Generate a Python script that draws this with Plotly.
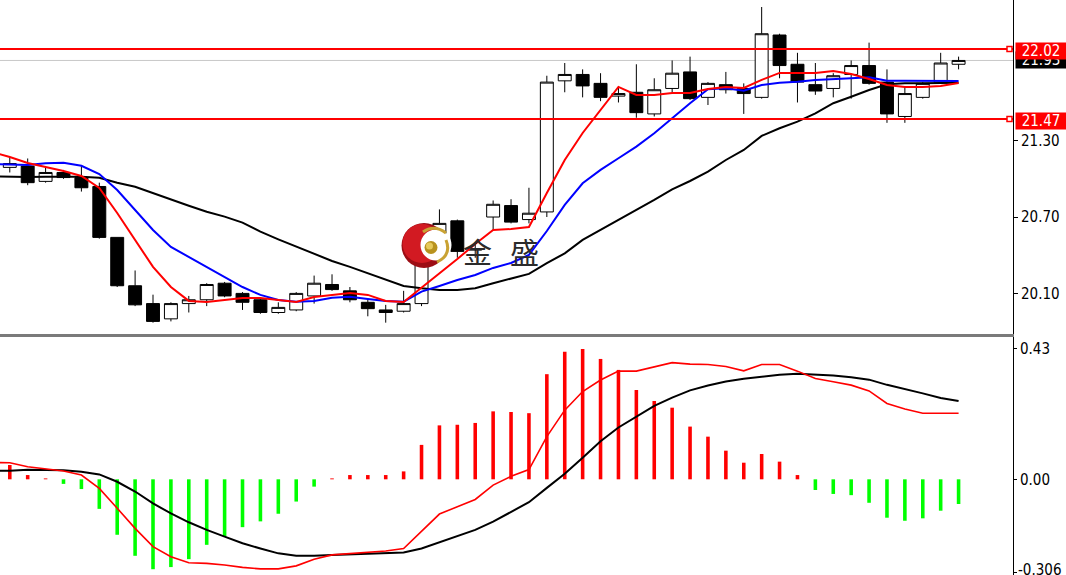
import plotly.graph_objects as go

# ---------------- data ----------------
idx = list(range(54))
opens = [21.09, 21.10, 20.98, 21.05, 21.01, 20.94, 20.54, 20.16, 20.02, 19.90,
         20.02, 20.05, 20.18, 20.10, 20.05, 19.95, 19.97, 20.08, 20.17, 20.12,
         20.03, 19.97, 19.96, 20.02, 20.57, 20.67, 20.44, 20.70, 20.79, 20.68,
         20.74, 21.77, 21.82, 21.75, 21.65, 21.68, 21.51, 21.71, 21.84, 21.64,
         21.74, 21.71, 21.64, 22.13, 21.90, 21.74, 21.71, 21.82, 21.89, 21.76,
         21.49, 21.64, 21.76, 21.90]
highs = [21.17, 21.16, 21.09, 21.07, 21.10, 20.97, 20.54, 20.28, 20.09, 20.03,
         20.08, 20.18, 20.19, 20.11, 20.06, 20.03, 20.11, 20.24, 20.25, 20.15,
         20.06, 20.01, 20.12, 20.57, 20.76, 20.68, 20.50, 20.83, 20.84, 20.93,
         21.81, 21.91, 21.86, 21.83, 21.72, 21.90, 21.79, 21.93, 21.96, 21.76,
         21.84, 21.75, 22.35, 22.14, 21.99, 21.91, 21.83, 21.93, 22.07, 21.86,
         21.72, 21.76, 21.99, 21.96]
lows = [21.05, 20.95, 20.97, 21.00, 20.90, 20.53, 20.15, 20.00, 19.87, 19.88,
        19.95, 20.00, 20.07, 19.97, 19.94, 19.94, 19.96, 20.02, 20.12, 20.03,
        19.92, 19.87, 19.95, 20.00, 20.56, 20.38, 20.38, 20.60, 20.65, 20.65,
        20.70, 21.68, 21.64, 21.61, 21.60, 21.48, 21.49, 21.68, 21.62, 21.58,
        21.67, 21.51, 21.63, 21.79, 21.60, 21.66, 21.64, 21.63, 21.74, 21.44,
        21.44, 21.63, 21.75, 21.86]
closes = [21.12, 20.97, 21.05, 21.01, 20.93, 20.54, 20.16, 20.01, 19.88, 20.02,
          20.05, 20.17, 20.08, 20.03, 19.95, 19.99, 20.10, 20.18, 20.13, 20.05,
          19.98, 19.95, 20.02, 20.55, 20.65, 20.43, 20.45, 20.80, 20.66, 20.73,
          21.76, 21.82, 21.73, 21.64, 21.67, 21.52, 21.70, 21.83, 21.63, 21.75,
          21.70, 21.67, 22.14, 21.89, 21.76, 21.69, 21.81, 21.89, 21.75, 21.51,
          21.67, 21.75, 21.91, 21.93]

# moving averages (first value belongs to the bar just left of the view)
ma_x = list(range(-1, 54))
ma_fast = [21.211, 21.172, 21.125, 21.093, 21.062, 21.022, 20.928, 20.732, 20.520, 20.308,
           20.150, 20.041, 20.033, 20.048, 20.064, 20.064, 20.048, 20.033, 20.072, 20.088,
           20.103, 20.088, 20.041, 20.033, 20.143, 20.260, 20.370, 20.488, 20.598, 20.606,
           20.622, 20.889, 21.148, 21.360, 21.541, 21.722, 21.659, 21.659, 21.674, 21.674,
           21.706, 21.722, 21.714, 21.777, 21.832, 21.832, 21.832, 21.847, 21.824, 21.784,
           21.737, 21.722, 21.722, 21.729, 21.753]
ma_mid = [21.117, 21.113, 21.109, 21.122, 21.127, 21.103, 21.038, 20.912, 20.755, 20.598,
          20.465, 20.386, 20.308, 20.229, 20.150, 20.088, 20.048, 20.035, 20.040, 20.066,
          20.074, 20.056, 20.040, 20.035, 20.114, 20.158, 20.205, 20.245, 20.300, 20.339,
          20.402, 20.590, 20.795, 20.965, 21.070, 21.162, 21.253, 21.358, 21.478, 21.594,
          21.704, 21.711, 21.692, 21.737, 21.755, 21.763, 21.777, 21.782, 21.790, 21.798,
          21.771, 21.771, 21.771, 21.769, 21.769]
ma_slow = [21.019, 21.015, 21.015, 21.017, 21.017, 21.017, 21.009, 20.970, 20.938, 20.887,
           20.842, 20.789, 20.742, 20.703, 20.656, 20.585, 20.525, 20.467, 20.415, 20.355,
           20.308, 20.258, 20.205, 20.158, 20.140, 20.127, 20.127, 20.140, 20.180, 20.219,
           20.253, 20.337, 20.415, 20.520, 20.598, 20.677, 20.755, 20.834, 20.918, 20.983,
           21.056, 21.148, 21.227, 21.337, 21.397, 21.449, 21.515, 21.594, 21.645, 21.698,
           21.743, 21.751, 21.751, 21.751, 21.755]

# MACD panel
macd_dif = [0.055, 0.0545, 0.041, 0.033, 0.027, 0.014, -0.030, -0.095, -0.161, -0.221,
            -0.254, -0.274, -0.276, -0.281, -0.289, -0.294, -0.294, -0.284, -0.262, -0.248,
            -0.243, -0.240, -0.235, -0.227, -0.172, -0.114, -0.090, -0.066, -0.019, 0.010,
            0.032, 0.140, 0.227, 0.288, 0.326, 0.355, 0.355, 0.368, 0.383, 0.378,
            0.377, 0.370, 0.356, 0.377, 0.377, 0.355, 0.331, 0.320, 0.309, 0.290,
            0.249, 0.231, 0.217, 0.217, 0.217]
macd_dea = [0.028, 0.028, 0.031, 0.031, 0.030, 0.025, 0.016, -0.008, -0.040, -0.079,
            -0.112, -0.141, -0.166, -0.188, -0.210, -0.227, -0.243, -0.251, -0.251, -0.248,
            -0.246, -0.246, -0.244, -0.240, -0.227, -0.207, -0.188, -0.166, -0.139, -0.106,
            -0.075, -0.028, 0.018, 0.071, 0.125, 0.170, 0.206, 0.241, 0.268, 0.292,
            0.308, 0.321, 0.330, 0.336, 0.343, 0.346, 0.344, 0.341, 0.335, 0.327,
            0.310, 0.297, 0.282, 0.267, 0.257]
macd_hist = [0.047, 0.014, 0.003, -0.015, -0.032, -0.097, -0.182, -0.251, -0.295, -0.288,
             -0.262, -0.215, -0.188, -0.157, -0.138, -0.113, -0.073, -0.024, 0.003, 0.014,
             0.014, 0.014, 0.026, 0.113, 0.177, 0.179, 0.185, 0.223, 0.221, 0.217,
             0.345, 0.419, 0.428, 0.395, 0.359, 0.293, 0.257, 0.235, 0.173, 0.140,
             0.094, 0.0545, 0.083, 0.058, 0.014, -0.035, -0.048, -0.052, -0.077, -0.126,
             -0.136, -0.128, -0.103, -0.081]

level_lines = [22.02, 21.47]
level_labels = ["22.02", "21.47"]
bid_price = 21.93
bid_label = "21.93"

price_ticks = [21.30, 20.70, 20.10]
price_tick_text = ["21.30", "20.70", "20.10"]
macd_ticks = [0.43, 0.0, -0.306]
macd_tick_text = ["0.43", "0.00", ""]
macd_min_label = "-0.306"

logo_chars = ["金", "盛"]

# ---------------- figure ----------------
W, H = 1066, 575
PLOT_W = 1013
FONT = "'DejaVu Sans Condensed', 'Liberation Sans', sans-serif"


def PX(px):
    return px / PLOT_W


def PY(py):
    return 1 - py / H


fig = go.Figure()

fig.add_trace(go.Candlestick(
    x=idx, open=opens, high=highs, low=lows, close=closes,
    increasing=dict(line=dict(color="black", width=1), fillcolor="white"),
    decreasing=dict(line=dict(color="black", width=1), fillcolor="black"),
    whiskerwidth=0, xaxis="x", yaxis="y", showlegend=False, hoverinfo="skip"))

for vals, col in [(ma_slow, "#000000"), (ma_mid, "#0000ff"), (ma_fast, "#ff0000")]:
    fig.add_trace(go.Scatter(x=ma_x, y=vals, mode="lines",
                             line=dict(color=col, width=2),
                             xaxis="x", yaxis="y", showlegend=False, hoverinfo="skip"))

fig.add_trace(go.Bar(
    x=idx, y=macd_hist, width=0.2,
    marker=dict(color=["#ff0000" if v >= 0 else "#00ff00" for v in macd_hist],
                line=dict(width=0)),
    xaxis="x2", yaxis="y2", showlegend=False, hoverinfo="skip"))
fig.add_trace(go.Scatter(x=ma_x, y=macd_dea, mode="lines", line=dict(color="#000000", width=2),
                         xaxis="x2", yaxis="y2", showlegend=False, hoverinfo="skip"))
fig.add_trace(go.Scatter(x=ma_x, y=macd_dif, mode="lines", line=dict(color="#ff0000", width=1.6),
                         xaxis="x2", yaxis="y2", showlegend=False, hoverinfo="skip"))

shapes = []
# bid line
shapes.append(dict(type="line", xref="paper", yref="y", x0=0, x1=1, y0=bid_price, y1=bid_price,
                   line=dict(color="#c8c8c8", width=1), layer="below"))
# level lines with end markers
for lv in level_lines:
    shapes.append(dict(type="line", xref="paper", yref="y", x0=0, x1=1, y0=lv, y1=lv,
                       line=dict(color="#ff0000", width=2), layer="above"))
    shapes.append(dict(type="rect", xref="paper", yref="y", xsizemode="pixel", ysizemode="pixel",
                       xanchor=1, yanchor=lv, x0=-6, x1=-1, y0=-2.5, y1=2.5,
                       line=dict(color="#ff0000", width=1.5), fillcolor="white", layer="above"))

# watermark logo
def circ(cx, cy, r, color):
    return dict(type="circle", xref="paper", yref="paper",
                x0=PX(cx - r), x1=PX(cx + r), y0=PY(cy + r), y1=PY(cy - r),
                fillcolor=color, line=dict(width=0), layer="above")

shapes.append(circ(424, 245.5, 22.5, "#9c0d14"))
shapes.append(circ(422, 243.5, 19.5, "#d21a22"))
shapes.append(circ(436, 245.0, 15.5, "#ffffff"))
shapes.append(circ(431, 247.5, 6.5, "#b8921e"))
shapes.append(circ(429.5, 246, 3.5, "#e6c95a"))


def qpath(p0, c, p1):
    return "M %f,%f Q %f,%f %f,%f" % (PX(p0[0]), PY(p0[1]), PX(c[0]), PY(c[1]), PX(p1[0]), PY(p1[1]))

shapes.append(dict(type="path", xref="paper", yref="paper",
                   path=qpath((423, 232), (434, 224), (446, 233)),
                   line=dict(color="#c9a233", width=3), layer="above"))
shapes.append(dict(type="path", xref="paper", yref="paper",
                   path=qpath((437, 262), (452, 255), (446, 240)),
                   line=dict(color="#c9a233", width=3), layer="above"))

annotations = []
# bid tag (behind the 22.02 tag)
annotations.append(dict(x=1, xref="paper", xanchor="left", xshift=2, y=bid_price, yref="y",
                        yanchor="middle", text=bid_label, showarrow=False, bgcolor="#000000",
                        font=dict(color="white", size=15, family=FONT), width=50, height=16,
                        align="center", borderpad=0))
for lv, lab in zip(level_lines, level_labels):
    annotations.append(dict(x=1, xref="paper", xanchor="left", xshift=2, y=lv, yref="y",
                            yanchor="middle", yshift=-2, text=lab, showarrow=False,
                            bgcolor="#ff0000", font=dict(color="white", size=15, family=FONT),
                            width=50, height=16, align="center", borderpad=0))
# lowest MACD scale label (sits at the very bottom edge)
annotations.append(dict(x=1, xref="paper", xanchor="left", xshift=3, y=macd_ticks[2], yref="y2",
                        yanchor="middle", yshift=3, text=macd_min_label, showarrow=False,
                        font=dict(color="black", size=15, family=FONT)))
for ch, cx in zip(logo_chars, [477.5, 524]):
    annotations.append(dict(x=PX(cx), xref="paper", y=PY(251), yref="paper", text=ch,
                            showarrow=False, xanchor="center", yanchor="middle",
                            font=dict(family="Noto Sans CJK SC", size=29, color="#2b2b2b")))

fig.update_layout(
    width=W, height=H,
    margin=dict(l=0, r=W - PLOT_W, t=0, b=0),
    paper_bgcolor="white", plot_bgcolor="white",
    showlegend=False, boxgap=0.15, boxgroupgap=0.15,
    xaxis=dict(domain=[0, 1], anchor="y", range=[-0.547, 56.04], showticklabels=False,
               showgrid=False, zeroline=False, showline=True, linecolor="#7a7a7a",
               linewidth=3, ticks="", rangeslider=dict(visible=False)),
    xaxis2=dict(domain=[0, 1], anchor="y2", matches="x", showticklabels=False,
                showgrid=False, zeroline=False, showline=False, ticks=""),
    yaxis=dict(domain=[1 - 334 / H, 1], range=[19.781, 22.405], side="right",
               showline=True, linecolor="black", linewidth=1, ticks="outside", ticklen=4,
               tickcolor="black", tickvals=price_ticks, ticktext=price_tick_text,
               tickfont=dict(family=FONT, size=15, color="black"),
               showgrid=False, zeroline=False, automargin=False),
    yaxis2=dict(domain=[0, 238 / H], range=[-0.314, 0.467], side="right",
                showline=True, linecolor="black", linewidth=1, ticks="outside", ticklen=3,
                tickcolor="black", tickvals=macd_ticks, ticktext=macd_tick_text,
                tickfont=dict(family=FONT, size=15, color="black"),
                showgrid=False, zeroline=False, automargin=False),
    shapes=shapes, annotations=annotations,
)

fig.write_html("out.html", config={"displayModeBar": False, "staticPlot": True},
               post_script="document.body.style.margin='0';document.body.style.padding='0';"
                           "document.body.style.overflow='hidden';")
